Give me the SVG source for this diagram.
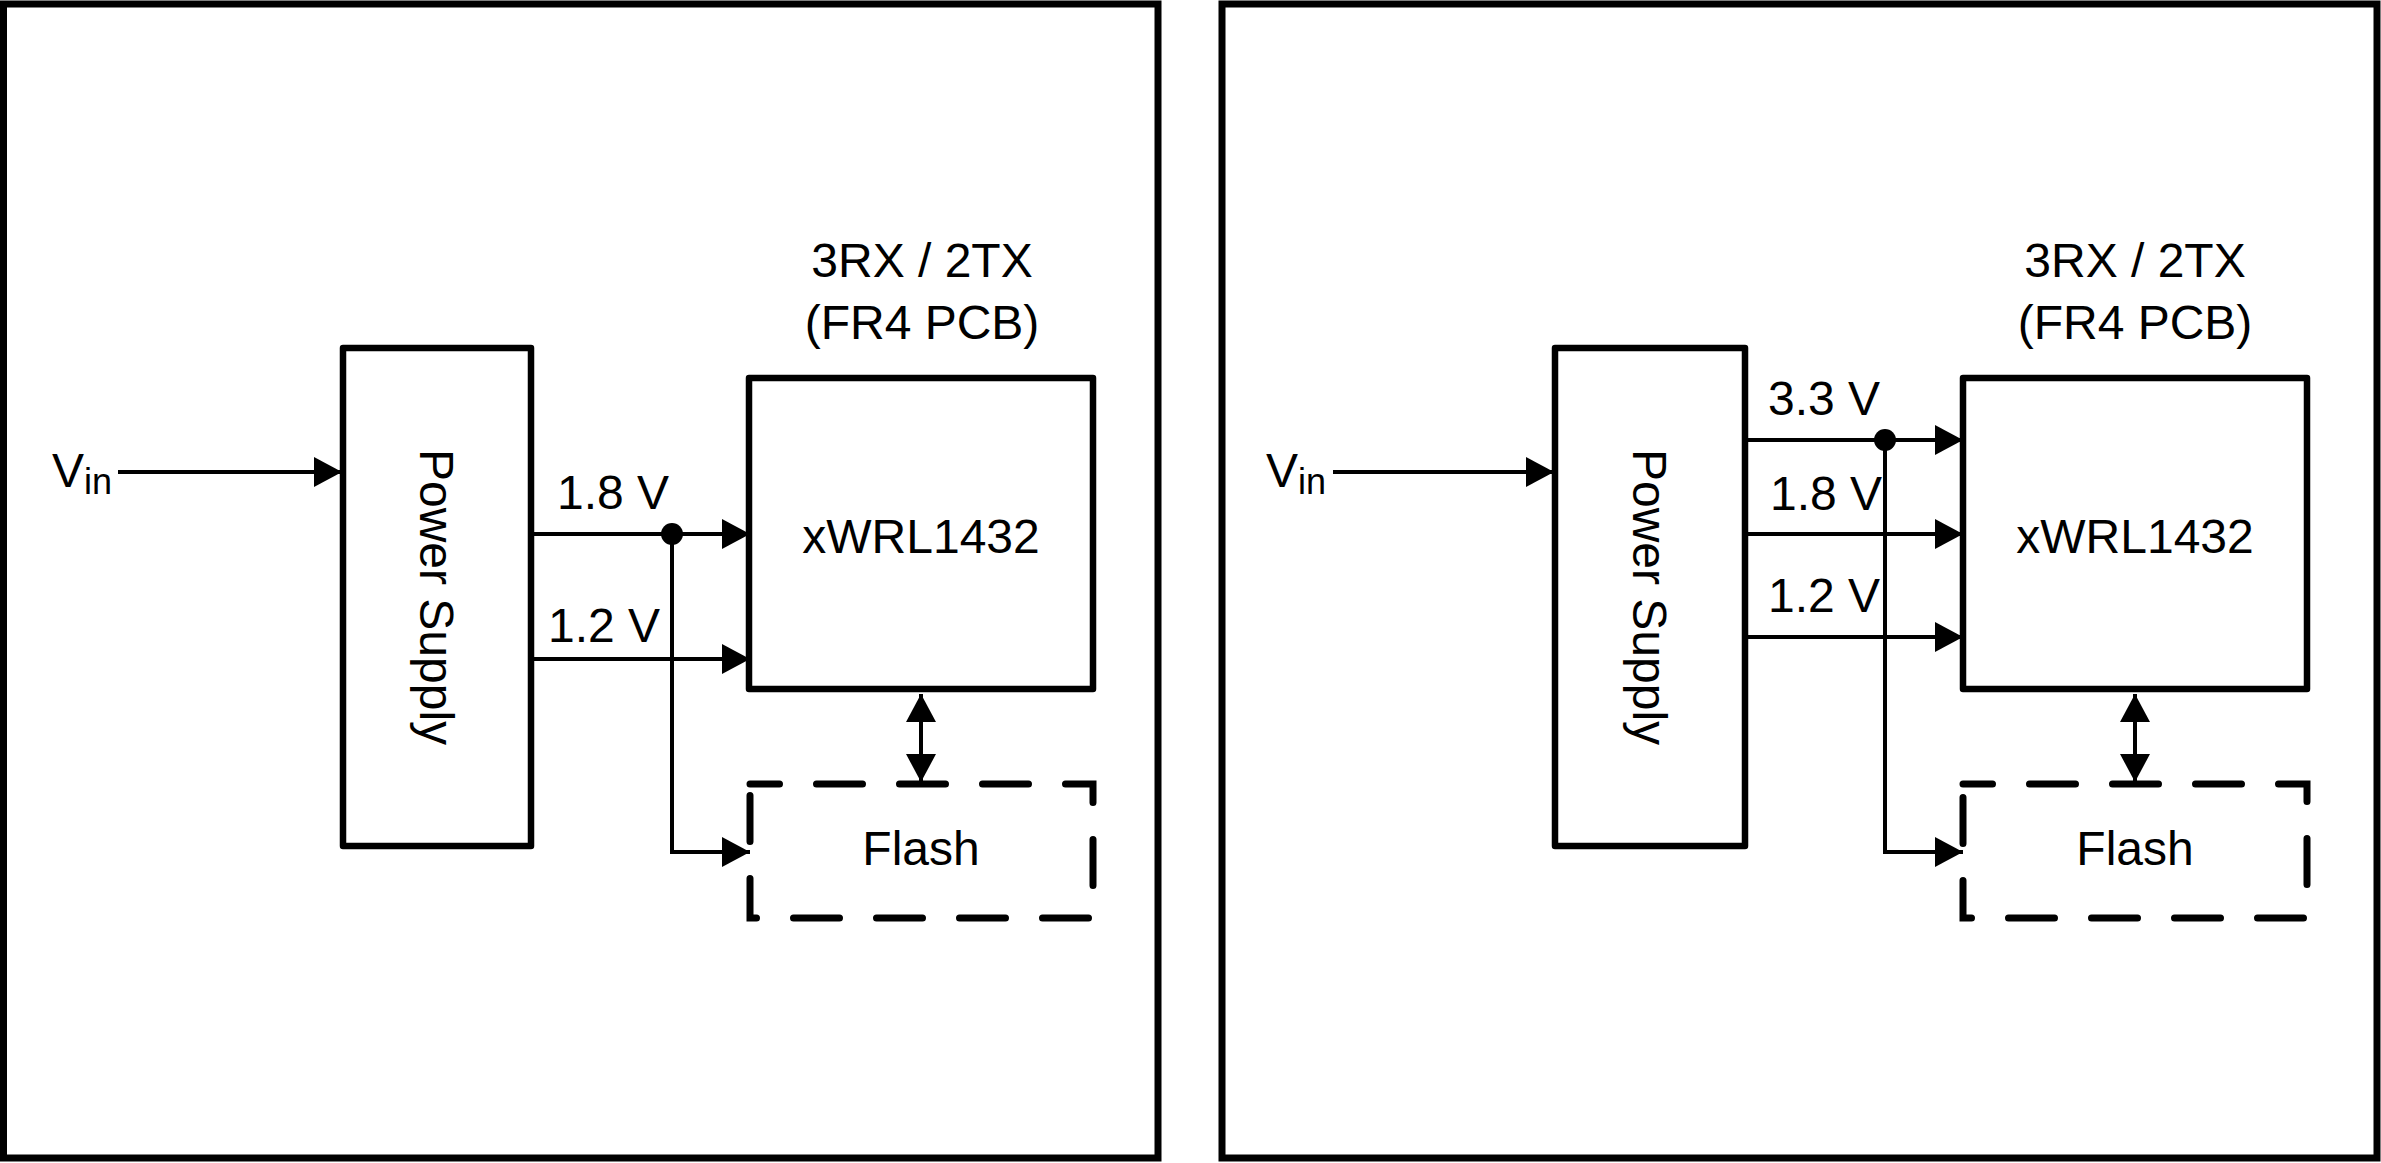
<svg xmlns="http://www.w3.org/2000/svg" width="2381" height="1163" viewBox="0 0 2381 1163">
<style>
.frame{fill:none;stroke:#000;stroke-width:7}
.box{fill:#fff;stroke:#000;stroke-width:6.5;stroke-linejoin:round}
.dash{fill:none;stroke:#000;stroke-width:7;stroke-linecap:round;stroke-dasharray:46 37;stroke-dashoffset:16.5}
.wire{fill:none;stroke:#000;stroke-width:4}
.arr{marker-end:url(#ah)}
.bi{marker-start:url(#ah);marker-end:url(#ah)}
text{font-family:"Liberation Sans",Arial,sans-serif;font-size:48px;fill:#000}
.c{text-anchor:middle}
.sub{font-size:36px}
</style>
<defs>
<marker id="ah" markerUnits="userSpaceOnUse" markerWidth="30" markerHeight="32" refX="28" refY="15" orient="auto-start-reverse">
<path d="M0,0 L28,15 L0,30 Z" fill="#000"/>
</marker>
</defs>
<rect width="2381" height="1163" fill="#fff"/>
<g id="frames">
<rect id="frame-left" class="frame" x="3.5" y="4" width="1154.5" height="1154"/>
<rect id="frame-right" class="frame" x="1222" y="4" width="1155" height="1154"/>
</g>
<g id="connectors">
<line class="wire arr" x1="118" y1="472" x2="342" y2="472"/>
<line class="wire arr" x1="531" y1="534" x2="750" y2="534"/>
<line class="wire arr" x1="531" y1="659" x2="750" y2="659"/>
<polyline class="wire arr" points="672,534 672,852 750,852"/>
<circle cx="672" cy="534" r="11" fill="#000"/>
<line class="wire bi" x1="921" y1="694" x2="921" y2="782"/>
<line class="wire arr" x1="1333" y1="472" x2="1554" y2="472"/>
<line class="wire arr" x1="1745" y1="440" x2="1963" y2="440"/>
<line class="wire arr" x1="1745" y1="534" x2="1963" y2="534"/>
<line class="wire arr" x1="1738" y1="637" x2="1963" y2="637"/>
<polyline class="wire arr" points="1885,440 1885,852 1963,852"/>
<circle cx="1885" cy="440" r="11" fill="#000"/>
<line class="wire bi" x1="2135" y1="694" x2="2135" y2="782"/>
</g>
<g id="vin-left"><text x="52" y="487">V<tspan class="sub" y="494">in</tspan></text></g>
<g id="power-supply-left">
<rect class="box" x="343" y="348" width="188" height="498"/>
<text class="c" transform="translate(420,597) rotate(90)">Power Supply</text>
</g>
<g id="xwrl-left">
<rect class="box" x="749" y="378" width="344" height="311"/>
<text class="c" x="921" y="553">xWRL1432</text>
</g>
<g id="xwrl-left-label">
<text class="c" x="922" y="277">3RX / 2TX</text>
<text class="c" x="922" y="339">(FR4 PCB)</text>
</g>
<g id="flash-left">
<path class="dash" d="M750,784 H1093 V918 H750 Z"/>
<text class="c" x="921" y="865">Flash</text>
</g>
<g id="labels-left">
<text x="557" y="509">1.8 V</text>
<text x="548" y="642">1.2 V</text>
</g>
<g id="vin-right"><text x="1266" y="487">V<tspan class="sub" y="494">in</tspan></text></g>
<g id="power-supply-right">
<rect class="box" x="1555" y="348" width="190" height="498"/>
<text class="c" transform="translate(1633,597) rotate(90)">Power Supply</text>
</g>
<g id="xwrl-right">
<rect class="box" x="1963" y="378" width="344" height="311"/>
<text class="c" x="2135" y="553">xWRL1432</text>
</g>
<g id="xwrl-right-label">
<text class="c" x="2135" y="277">3RX / 2TX</text>
<text class="c" x="2135" y="339">(FR4 PCB)</text>
</g>
<g id="flash-right">
<path class="dash" d="M1963,784 H2307 V918 H1963 Z"/>
<text class="c" x="2135" y="865">Flash</text>
</g>
<g id="labels-right">
<text x="1768" y="415">3.3 V</text>
<text x="1770" y="510">1.8 V</text>
<text x="1768" y="612">1.2 V</text>
</g>
</svg>
